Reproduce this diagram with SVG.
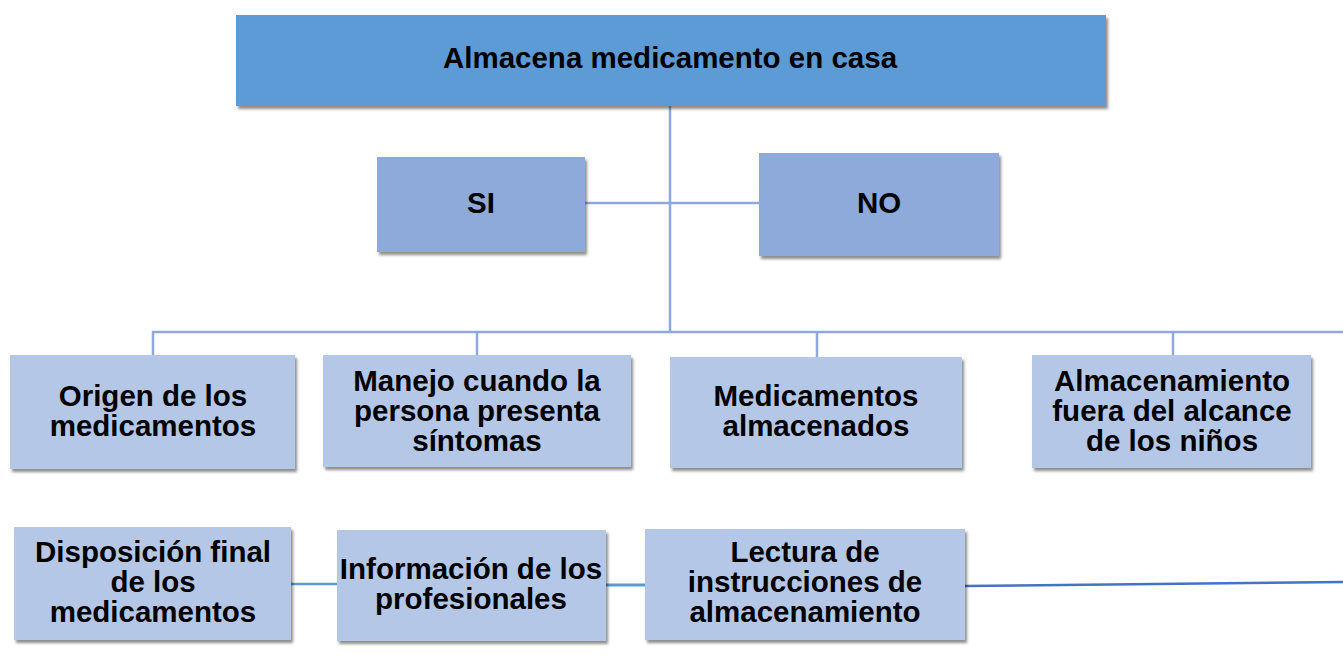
<svg xmlns="http://www.w3.org/2000/svg" width="1343" height="658" viewBox="0 0 1343 658">
<defs>
<filter id="sh" x="-10%" y="-10%" width="125%" height="130%">
<feDropShadow dx="2" dy="3" stdDeviation="1.8" flood-color="#000" flood-opacity="0.45"/>
</filter>
<style>
.t{font-family:"Liberation Sans",Arial,sans-serif;font-weight:bold;fill:#000;text-anchor:middle;}
.lg{font-size:29.5px;}
.md{font-size:29.5px;}
.top{fill:#5b9bd5;}
.mid{fill:#8eaadb;}
.low{fill:#b4c7e7;}
.c{stroke:#8eaadb;stroke-width:2.5;fill:none;}
.c2{stroke:#5b9bd5;stroke-width:2.5;fill:none;}
.c3{stroke:#4472c4;stroke-width:2.5;fill:none;}
</style>
</defs>
<rect width="1343" height="658" fill="#fff"/>
<g id="connectors">
<path class="c" d="M670 106 V332"/>
<path class="c" d="M585 203 H759"/>
<path class="c" d="M153 355 V332 H1343"/>
<path class="c" d="M477 355 V332"/>
<path class="c" d="M817 357 V332"/>
<path class="c" d="M1173 355 V332"/>
<path class="c2" d="M291 584 H337"/>
<path class="c2" d="M606 585 H645" style="stroke-width:3"/>
<path class="c3" d="M965 586 L1343 582"/>
</g>
<g id="n-root">
<rect class="top" x="236" y="15" width="870" height="91" filter="url(#sh)"/>
<text class="t lg" x="670" y="68">Almacena medicamento en casa</text>
</g>
<g id="n-si">
<rect class="mid" x="377" y="157" width="208" height="95" filter="url(#sh)"/>
<text class="t md" x="481" y="213">SI</text>
</g>
<g id="n-no">
<rect class="mid" x="759" y="153" width="240" height="103" filter="url(#sh)"/>
<text class="t md" x="879" y="213">NO</text>
</g>
<g id="n-origen">
<rect class="low" x="10" y="355" width="285" height="114" filter="url(#sh)"/>
<text class="t md" x="153" y="406">Origen de los</text>
<text class="t md" x="153" y="436">medicamentos</text>
</g>
<g id="n-manejo">
<rect class="low" x="323" y="355" width="308" height="112" filter="url(#sh)"/>
<text class="t md" x="477" y="391">Manejo cuando la</text>
<text class="t md" x="477" y="421">persona presenta</text>
<text class="t md" x="477" y="451">síntomas</text>
</g>
<g id="n-almacenados">
<rect class="low" x="670" y="357" width="292" height="111" filter="url(#sh)"/>
<text class="t md" x="816" y="406">Medicamentos</text>
<text class="t md" x="816" y="436">almacenados</text>
</g>
<g id="n-alcance">
<rect class="low" x="1032" y="355" width="279" height="113" filter="url(#sh)"/>
<text class="t md" x="1172" y="391">Almacenamiento</text>
<text class="t md" x="1172" y="421">fuera del alcance</text>
<text class="t md" x="1172" y="451">de los niños</text>
</g>
<g id="n-disposicion">
<rect class="low" x="14" y="527" width="277" height="113" filter="url(#sh)"/>
<text class="t md" x="153" y="562">Disposición final</text>
<text class="t md" x="153" y="592">de los</text>
<text class="t md" x="153" y="622">medicamentos</text>
</g>
<g id="n-informacion">
<rect class="low" x="337" y="530" width="269" height="111" filter="url(#sh)"/>
<text class="t md" x="471" y="579">Información de los</text>
<text class="t md" x="471" y="609">profesionales</text>
</g>
<g id="n-lectura">
<rect class="low" x="645" y="529" width="320" height="111" filter="url(#sh)"/>
<text class="t md" x="805" y="562">Lectura de</text>
<text class="t md" x="805" y="592">instrucciones de</text>
<text class="t md" x="805" y="622">almacenamiento</text>
</g>
</svg>
